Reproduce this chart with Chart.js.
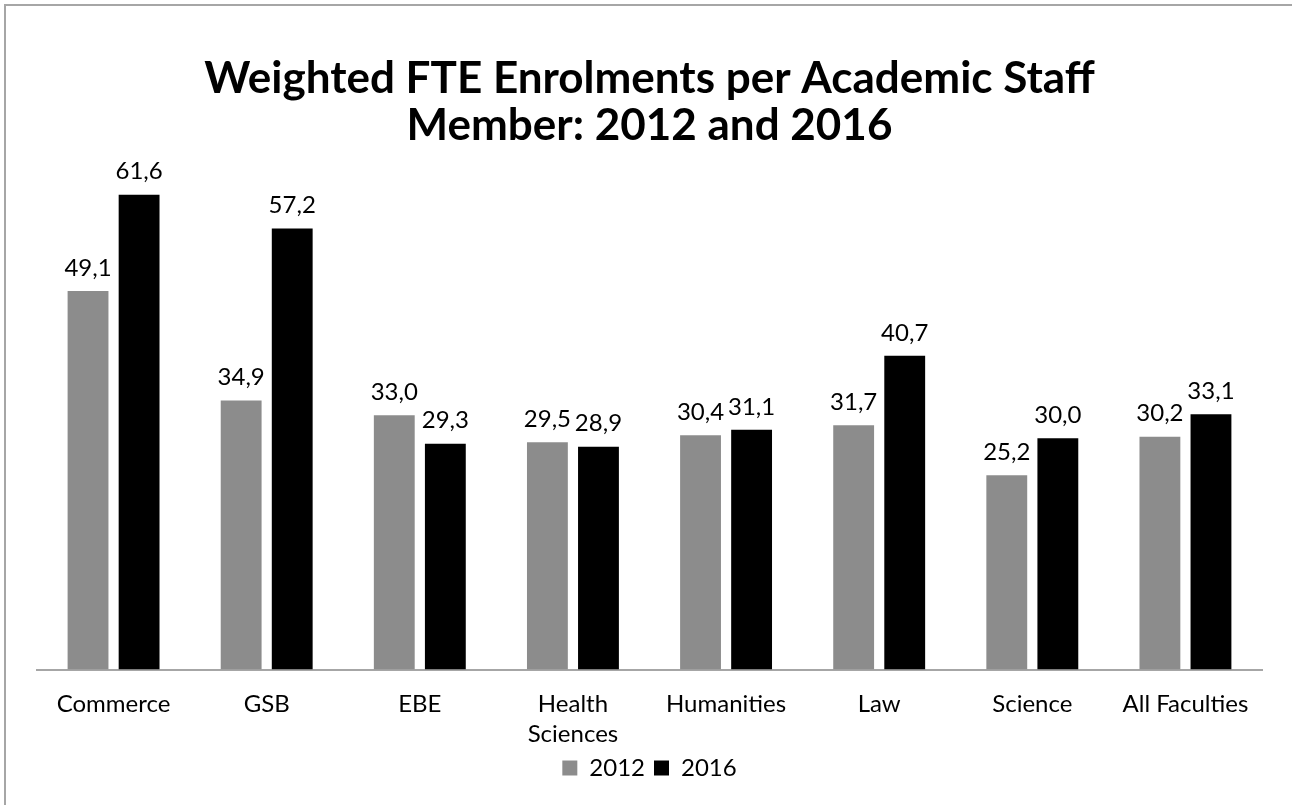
<!DOCTYPE html>
<html>
<head>
<meta charset="utf-8">
<script src="https://cdn.jsdelivr.net/npm/chart.js@4"></script>
<style>
  html, body { margin: 0; padding: 0; background: #fff; }
  #wrap {
    position: absolute; left: 4px; top: 4px; width: 1288px; height: 801px;
    border-left: 2px solid #a6a6a6; border-top: 2px solid #a6a6a6;
  }
  #chart { position: absolute; left: -6px; top: -6px; }
</style>
</head>
<body>
<div id="wrap"><canvas id="chart" width="1292" height="805"></canvas></div>
<script>
const faculties = ['Commerce', 'GSB', 'EBE', ['Health', 'Sciences'], 'Humanities', 'Law', 'Science', 'All Faculties'];
const values2012 = [49.1, 34.9, 33.0, 29.5, 30.4, 31.7, 25.2, 30.2];
const values2016 = [61.6, 57.2, 29.3, 28.9, 31.1, 40.7, 30.0, 33.1];
const titleLines = ['Weighted FTE Enrolments per Academic Staff', 'Member: 2012 and 2016'];

const FONT = 'Lato, "Open Sans", sans-serif';

// draws the value above each bar, comma as decimal mark
const valueLabels = {
    id: 'valueLabels',
    afterDatasetsDraw(chart) {
        const ctx = chart.ctx;
        ctx.save();
        ctx.font = '24px ' + FONT;
        ctx.fillStyle = '#000';
        ctx.textAlign = 'center';
        ctx.textBaseline = 'bottom';
        chart.data.datasets.forEach((ds, i) => {
            chart.getDatasetMeta(i).data.forEach((bar, j) => {
                const txt = ds.data[j].toFixed(1).replace('.', ',');
                ctx.fillText(txt, bar.x, bar.y - 11);
            });
        });
        ctx.restore();
    }
};

new Chart(document.getElementById('chart'), {
    type: 'bar',
    data: {
        labels: faculties,
        datasets: [
            { label: '2012', data: values2012, backgroundColor: '#8c8c8c' },
            { label: '2016', data: values2016, backgroundColor: '#000000' }
        ]
    },
    options: {
        responsive: false,
        animation: false,
        datasets: {
            bar: { categoryPercentage: 0.667, barPercentage: 0.8 }
        },
        layout: { padding: { left: 37, right: 30, top: 55, bottom: 15 } },
        plugins: {
            title: {
                display: true,
                text: titleLines,
                color: '#000',
                font: { family: FONT, size: 44, weight: 'bold', lineHeight: 1.07 },
                padding: { top: 0, bottom: 0 }
            },
            legend: {
                position: 'bottom',
                labels: {
                    color: '#000',
                    font: { family: FONT, size: 24 },
                    boxWidth: 15,
                    boxHeight: 15,
                    padding: 9
                }
            },
            tooltip: { enabled: false }
        },
        scales: {
            x: {
                grid: { display: false },
                border: { color: '#a6a6a6', width: 2 },
                ticks: {
                    color: '#000',
                    font: { family: FONT, size: 24, lineHeight: 1.28 },
                    padding: 11,
                    maxRotation: 0,
                    autoSkip: false
                },
                afterFit(scale) { scale.height -= 14; }
            },
            y: {
                display: false,
                min: 0,
                max: 67.5
            }
        }
    },
    plugins: [valueLabels]
});
</script>
</body>
</html>
